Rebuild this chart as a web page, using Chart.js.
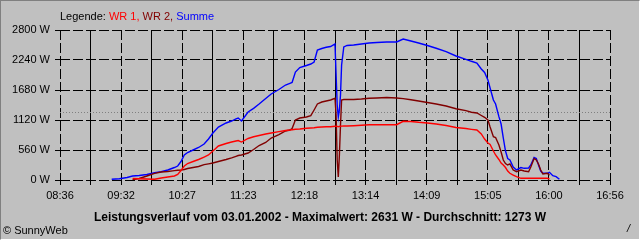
<!DOCTYPE html>
<html>
<head>
<meta charset="utf-8">
<script src="https://cdn.jsdelivr.net/npm/chart.js@4"></script>
<style>
  html, body { margin: 0; padding: 0; }
  body {
    width: 640px; height: 240px; position: relative; overflow: hidden;
    background: #c0c0c0; font-family: "Liberation Sans", Arial, sans-serif; font-size: 11px; color: #000;
  }
  #frame {
    position: absolute; left: 0; top: 0; width: 638px; height: 238px;
    border-left: 1px solid #808080; border-top: 1px solid #808080;
    border-right: 1px solid #fff; border-bottom: 1px solid #fff;
  }
  canvas { position: absolute; left: 0; top: 0; }
  .txt { position: absolute; white-space: nowrap; line-height: 13px; }
  #legend { left: 60px; top: 10px; }
  #title { left: 0; width: 640px; top: 210px; text-align: center; font-weight: bold; font-size: 12px; line-height: 14px; }
  #copy { left: 3px; top: 224px; }
  #mark { left: 627px; top: 222px; font-style: italic; }
</style>
</head>
<body>
<div id="frame"></div>
<canvas id="powerChart" width="640" height="240"></canvas>
<div class="txt" id="legend">Legende: <span style="color:#ff0000">WR 1,</span> <span style="color:#800000">WR 2,</span> <span style="color:#0000ff">Summe</span></div>
<div class="txt" id="title">Leistungsverlauf vom 03.01.2002 - Maximalwert: 2631 W - Durchschnitt: 1273 W</div>
<div class="txt" id="copy">© SunnyWeb</div>
<div class="txt" id="mark">/</div>

<script>
// Data
const times = [
  '09:23','09:30','09:37','09:42','09:48','09:55','10:02','10:08','10:14','10:20',
  '10:23','10:26','10:29','10:32','10:37','10:42','10:47','10:51','10:55','11:00',
  '11:07','11:12','11:16','11:18','11:21','11:27','11:32','11:37','11:43','11:48',
  '11:55','12:01','12:05','12:07','12:10','12:14','12:20','12:24','12:27','12:30',
  '12:34','12:38','12:42','12:46','12:47','12:48','12:49','12:50','12:51','12:52',
  '12:54','12:57','13:03','13:10','13:17','13:24','13:33','13:42','13:48','13:55',
  '14:02','14:10','14:18','14:27','14:36','14:45','14:50','14:55','14:59','15:02',
  '15:05','15:07','15:10','15:12','15:15','15:17','15:19','15:21','15:23','15:25',
  '15:28','15:31','15:35','15:38','15:42','15:44','15:47','15:49','15:51','15:53',
  '15:55','15:59','16:01','16:04','16:07','16:10'
];

const wr1 = [
  null, null, null, 28, 24, 19, 13, 37, 56, 75,
  103, 177, 261, 308, 345, 383, 429, 467, 541, 635,
  681, 709, 728, 737, 709, 775, 808, 831, 859, 877,
  902, 924, 933, 939, 946, 952, 965, 971, 976, 984,
  989, 993, 995, 1002, 1004, 1000, 995, 1000, 1004, 1006,
  1008, 1008, 1014, 1023, 1032, 1032, 1032, 1032, 1096, 1092,
  1077, 1064, 1045, 1017, 980, 961, 946, 933, 859, 765,
  691, 663, 541, 467, 383, 317, 280, 233, 168, 125,
  93, 62, 32, 32, 32, 32, 32, 32, 32, 32,
  32, 32, 19, null, null, null
];

const wr2 = [
  null, null, null, 5, 28, 75, 125, 149, 159, 174,
  181, 187, 196, 215, 233, 252, 286, 302, 317, 345,
  383, 414, 442, 457, 467, 504, 569, 644, 700, 784,
  849, 915, 933, 961, 1120, 1157, 1176, 1200, 1307, 1419,
  1456, 1475, 1493, 1525, 1213, 373, 56, 467, 1027, 1493,
  1503, 1503, 1503, 1512, 1525, 1531, 1540, 1531, 1518, 1499,
  1475, 1447, 1419, 1381, 1331, 1294, 1264, 1251, 1204, 1170,
  1120, 989, 808, 793, 653, 523, 373, 308, 280, 299,
  187, 155, 187, 168, 155, 243, 401, 373, 299, 187,
  112, 125, 88, null, null, null
];

const summe = [
  13, 24, 47, 75, 84, 103, 136, 155, 187, 233,
  261, 345, 467, 513, 560, 607, 672, 765, 877, 989,
  1064, 1101, 1139, 1157, 1101, 1269, 1338, 1419, 1521, 1605,
  1689, 1773, 1805, 1820, 2016, 2100, 2137, 2165, 2203, 2427,
  2455, 2477, 2492, 2539, 1960, 1400, 1176, 1307, 1587, 2147,
  2483, 2511, 2520, 2539, 2557, 2567, 2576, 2576, 2631, 2595,
  2557, 2511, 2459, 2395, 2315, 2253, 2216, 2184, 2072, 2007,
  1867, 1717, 1493, 1419, 1182, 1045, 784, 541, 401, 373,
  243, 187, 233, 218, 224, 280, 420, 401, 280, 168,
  125, 125, 144, 80, 62, 13
];

const xTickLabels = ['08:36', '09:32', '10:27', '11:23', '12:18', '13:14', '14:09', '15:05', '16:00', '16:56'];
const yTicks = [0, 560, 1120, 1680, 2240, 2800];
const averageW = 1273;

const FONT = "'Liberation Sans', Arial, sans-serif";

function toMin(t) {
  const [h, m] = t.split(':').map(Number);
  return h * 60 + m;
}

function points(values) {
  return times.map((t, i) => ({ x: toMin(t), y: values[i] }));
}

// gridlines: one at every label and one halfway between
const xStart = toMin(xTickLabels[0]);
const xEnd = toMin(xTickLabels[xTickLabels.length - 1]);
const xGrid = [];
for (let k = 0; k <= (xTickLabels.length - 1) * 2; k++) {
  xGrid.push(xStart + k * (xEnd - xStart) / ((xTickLabels.length - 1) * 2));
}

// Dotted average line
const avgLine = {
  id: 'avgLine',
  beforeDatasetsDraw(chart) {
    const { ctx, chartArea, scales } = chart;
    const y = Math.round(scales.y.getPixelForValue(averageW)) + 0.5;
    ctx.save();
    ctx.strokeStyle = '#808080';
    ctx.lineWidth = 1;
    ctx.setLineDash([1, 2]);
    ctx.beginPath();
    ctx.moveTo(chartArea.left, y);
    ctx.lineTo(chartArea.right, y);
    ctx.stroke();
    ctx.restore();
  }
};

const ctx = document.getElementById('powerChart').getContext('2d');
new Chart(ctx, {
  type: 'line',
  data: {
    datasets: [
      { label: 'WR 1', data: points(wr1), borderColor: '#ff0000' },
      { label: 'WR 2', data: points(wr2), borderColor: '#800000' },
      { label: 'Summe', data: points(summe), borderColor: '#0000ff' }
    ]
  },
  options: {
    responsive: false,
    animation: false,
    parsing: false,
    datasets: {
      line: { borderWidth: 1.4, pointRadius: 0, tension: 0, fill: false, spanGaps: false }
    },
    layout: { padding: { top: 30, right: 30, left: 0, bottom: 0 } },
    plugins: {
      legend: { display: false },
      title: { display: false },
      tooltip: { enabled: false }
    },
    scales: {
      x: {
        type: 'linear',
        min: xStart,
        max: xEnd,
        afterBuildTicks: axis => { axis.ticks = xGrid.map(v => ({ value: v })); },
        afterFit: axis => { axis.height = 60; },
        ticks: {
          autoSkip: false,
          maxRotation: 0,
          padding: 4,
          color: '#000',
          font: { family: FONT, size: 11 },
          callback: (v, i) => (i % 2 === 0 ? xTickLabels[i / 2] : '')
        },
        grid: { color: '#000', lineWidth: 1, tickLength: 5, tickColor: '#000' },
        border: { display: false, dash: c => (c.index % 2 === 0 ? [10, 3] : []) }
      },
      y: {
        min: 0,
        max: yTicks[yTicks.length - 1],
        afterBuildTicks: axis => { axis.ticks = yTicks.map(v => ({ value: v })); },
        afterFit: axis => { axis.width = 60; },
        ticks: {
          padding: 5,
          color: '#000',
          font: { family: FONT, size: 11 },
          callback: v => v + ' W'
        },
        grid: { color: '#000', lineWidth: 1, tickLength: 5, tickColor: '#000' },
        border: { display: false, dash: [10, 3] }
      }
    }
  },
  plugins: [avgLine]
});
</script>
</body>
</html>
